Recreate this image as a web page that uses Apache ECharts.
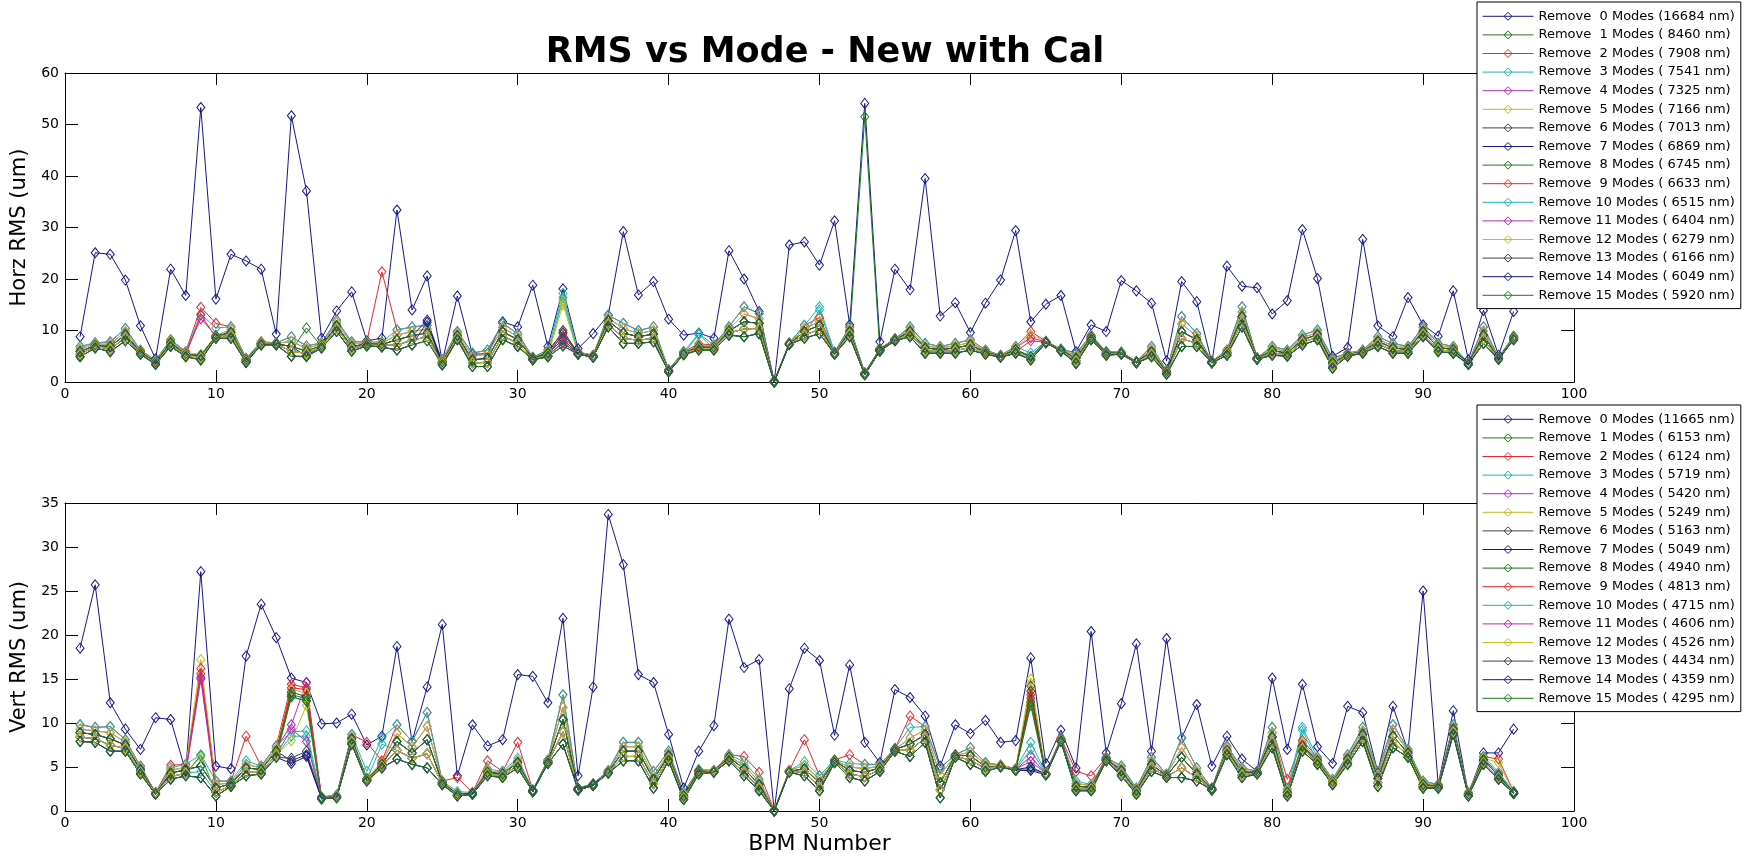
<!DOCTYPE html>
<html><head><meta charset="utf-8">
<script src="https://cdn.jsdelivr.net/npm/echarts@6/dist/echarts.min.js"></script>
<style>html,body{margin:0;padding:0;background:#fff}#c{width:1749px;height:856px}</style>
</head><body><div id="c"></div>
<script>
// ---------- data ----------
const bpm = [1,2,3,4,5,6,7,8,9,10,11,12,13,14,15,16,17,18,19,20,21,22,23,24,25,26,27,28,29,30,31,32,33,34,35,36,37,38,39,40,41,42,43,44,45,46,47,48,49,50,51,52,53,54,55,56,57,58,59,60,61,62,63,64,65,66,67,68,69,70,71,72,73,74,75,76,77,78,79,80,81,82,83,84,85,86,87,88,89,90,91,92,93,94,95,96];
const xTicks = [0,10,20,30,40,50,60,70,80,90,100];
const horzTicks = [0,10,20,30,40,50,60];
const vertTicks = [0,5,10,15,20,25,30,35];
const modeCount = [0,1,2,3,4,5,6,7,8,9,10,11,12,13,14,15];
const horzRms = [16684,8460,7908,7541,7325,7166,7013,6869,6745,6633,6515,6404,6279,6166,6049,5920];
const vertRms = [11665,6153,6124,5719,5420,5249,5163,5049,4940,4813,4715,4606,4526,4434,4359,4295];

// Horizontal: Remove 0 Modes
const horzRemove0 = [8.8,25.1,24.8,19.8,10.9,4.5,21.9,16.8,53.3,16.1,
24.8,23.5,21.9,9.3,51.7,37.1,8.5,13.8,17.5,8.0,
8.5,33.4,14.0,20.6,3.9,16.7,5.4,5.5,11.7,10.7,
18.8,6.9,18.1,6.5,9.4,13.0,29.2,16.9,19.5,12.2,
9.1,9.5,8.5,25.5,20.0,13.7,0,26.6,27.2,22.7,
31.3,11.1,54.1,7.8,21.9,17.9,39.5,12.8,15.4,9.6,
15.3,19.8,29.4,11.7,15.1,16.8,5.9,11.1,9.8,19.7,
17.7,15.3,4.1,19.5,15.6,3.8,22.5,18.6,18.3,13.2,
15.8,29.6,20.1,5.0,6.7,27.7,10.9,8.8,16.4,11.1,
8.9,17.7,4.3,13.9,5.2,13.7];
// Horizontal: bundle of the other removals, read as five levels (low .. high)
const horzLo = [4.9,6.6,5.9,8.0,5.4,3.4,6.9,4.9,4.3,8.5,
8.5,3.8,7.2,7.2,5.0,5.0,6.6,9.8,6.0,7.0,
6.8,6.2,7.2,8.0,3.3,8.2,3.0,3.0,8.2,6.9,
4.3,4.9,7.0,5.4,4.8,10.7,7.5,7.5,7.8,2.0,
5.3,6.2,6.2,9.1,8.8,9.4,0,7.3,8.5,9.4,
5.4,8.8,1.4,6.0,8.0,8.8,5.6,5.6,5.6,6.2,
5.4,4.8,5.6,4.3,7.6,6.0,3.6,8.2,5.2,5.4,
3.7,4.9,1.5,6.9,6.9,3.7,5.2,10.7,4.4,5.2,
5.0,7.2,8.2,2.7,5.0,5.6,6.9,5.6,5.6,8.8,
5.9,5.6,3.4,7.5,4.4,8.2];
const horzQ1 = [5.4,6.9,6.4,8.6,5.6,3.6,7.2,5.2,4.7,8.7,
9.1,4.0,7.4,7.3,6.0,5.5,6.9,10.4,6.5,7.2,
7.1,7.2,8.1,8.8,3.6,8.6,3.7,3.8,9.0,7.5,
4.4,5.2,7.6,5.5,4.9,11.3,8.5,8.1,8.5,2.1,
5.5,6.5,6.5,9.5,10.3,10.4,0,7.4,9.1,10.2,
5.5,9.3,1.5,6.1,8.1,9.3,6.1,5.9,6.1,6.7,
5.6,4.9,5.9,4.6,7.7,6.1,4.1,8.4,5.4,5.5,
3.8,5.4,1.7,8.4,7.5,3.8,5.5,11.7,4.5,5.6,
5.3,7.7,8.7,3.2,5.2,5.8,7.4,6.1,5.9,9.3,
6.3,5.9,3.5,8.3,4.5,8.4];
const horzMid = [5.9,7.1,6.9,9.2,5.8,3.8,7.6,5.4,5.1,8.9,
9.6,4.2,7.5,7.4,6.9,6.0,7.1,10.9,6.9,7.4,
7.3,8.2,9.0,9.5,3.8,9.0,4.3,4.6,9.8,8.2,
4.6,5.6,8.2,5.6,5.0,11.9,9.5,8.8,9.3,2.2,
5.6,6.8,6.7,9.9,11.7,11.4,0.1,7.4,9.8,11.0,
5.6,9.8,1.6,6.3,8.2,9.8,6.6,6.3,6.6,7.2,
5.8,5.0,6.3,4.9,7.8,6.2,4.6,8.7,5.6,5.6,
3.9,5.9,1.9,9.8,8.2,3.9,5.7,12.7,4.6,6.1,
5.6,8.2,9.2,3.7,5.3,5.9,7.9,6.6,6.3,9.8,
6.7,6.3,3.6,9.1,4.6,8.6];
const horzQ3 = [6.4,7.4,7.3,9.8,6.0,4.0,7.9,5.7,5.4,9.0,
10.2,4.4,7.7,7.5,7.9,6.5,7.4,11.5,7.4,7.6,
7.6,9.1,9.8,10.3,4.1,9.4,5.0,5.4,10.6,8.8,
4.7,5.9,8.8,5.7,5.1,12.4,10.4,9.4,10.0,2.3,
5.8,7.1,7.0,10.3,13.2,12.3,0.1,7.5,10.4,11.7,
5.7,10.2,1.7,6.4,8.3,10.2,7.0,6.6,7.0,7.7,
6.0,5.1,6.6,5.3,7.8,6.3,5.1,8.9,5.7,5.7,
3.9,6.4,2.0,11.3,8.8,3.9,6.0,13.6,4.6,6.5,
5.9,8.6,9.6,4.1,5.5,6.1,8.3,7.0,6.6,10.2,
7.1,6.6,3.6,9.9,4.7,8.7];
const horzHi = [6.9,7.6,7.8,10.4,6.2,4.2,8.2,5.9,5.8,9.2,
10.7,4.6,7.8,7.6,8.8,7.0,7.6,12.0,7.8,7.8,
7.8,10.1,10.7,11.0,4.3,9.8,5.6,6.2,11.4,9.4,
4.8,6.2,9.4,5.8,5.2,13.0,11.4,10.0,10.7,2.4,
5.9,7.4,7.2,10.7,14.6,13.3,0.2,7.6,11.0,12.5,
5.8,10.7,1.8,6.5,8.4,10.7,7.5,6.9,7.5,8.2,
6.2,5.2,6.9,5.6,7.9,6.4,5.6,9.1,5.9,5.8,
4.0,6.9,2.2,12.7,9.4,4.0,6.2,14.6,4.7,6.9,
6.2,9.1,10.1,4.6,5.6,6.2,8.8,7.5,6.9,10.7,
7.5,6.9,3.7,10.7,4.8,8.9];
// individual points that leave the bundle, {BPM: value}, per removal count 1..15
const horzOutliers = [null,
 {16:10.5,53:51.5},
 {9:14.5,10:11.4,21:21.4,64:9.8},
 {9:13.2,10:10.5,33:17.2,42:9.4,50:14.6},
 {9:12.3,64:8.6},
 {33:15.8,64:9.2},
 {33:10.0},
 {16:5.0,24:12.0},
 {},
 {9:13.0,64:8.0},
 {33:16.4,42:9.2,50:14.0},
 {},
 {33:15.0},
 {33:9.6},
 {16:4.9,24:11.6},
 {}];

// Vertical: Remove 0 Modes
const vertRemove0 = [18.5,25.7,12.3,9.3,7.0,10.6,10.4,4.5,27.2,5.1,
4.8,17.6,23.5,19.7,15.1,14.6,9.9,10.0,11.0,7.5,
8.5,18.7,7.9,14.1,21.2,4.0,9.8,7.4,8.1,15.5,
15.3,12.3,21.9,4.0,14.1,33.7,28.0,15.5,14.6,8.7,
2.6,6.8,9.7,21.8,16.3,17.2,0,13.9,18.5,17.1,
8.6,16.6,7.8,5.5,13.8,12.9,10.8,5.1,9.8,8.8,
10.3,7.8,8.0,17.4,5.4,9.2,4.9,20.4,6.6,12.2,
19.0,6.8,19.6,8.3,12.1,5.1,8.5,5.9,4.5,15.1,
7.0,14.4,7.3,5.4,11.9,11.2,4.4,11.9,6.8,25.0,
3.0,11.4,1.9,6.6,6.6,9.3];
const vertLo = [7.9,7.8,6.8,6.8,4.2,1.9,3.6,4.0,3.8,1.7,
2.8,4.0,4.2,6.1,5.4,6.2,1.4,1.5,7.6,3.4,
4.9,5.9,5.3,4.9,3.0,1.7,1.9,4.0,3.8,4.9,
2.2,5.4,7.6,2.4,2.9,4.3,5.7,5.7,2.6,5.7,
1.3,4.2,4.4,5.7,4.0,2.3,0,4.4,4.0,2.3,
5.5,3.8,3.4,4.5,6.8,6.2,7.8,1.5,6.1,5.3,
4.5,5.0,4.6,4.6,4.1,7.9,2.3,2.3,5.7,4.0,
1.9,4.5,3.8,3.8,3.4,2.4,6.4,3.8,4.2,7.2,
1.7,6.8,5.3,3.0,5.3,7.9,2.8,7.2,6.1,2.6,
2.6,8.7,1.7,5.3,3.6,2.0];
const vertQ1 = [8.4,8.2,7.5,7.1,4.4,2.0,3.9,4.3,4.5,2.1,
2.9,4.4,4.4,6.4,8.5,9.0,1.4,1.6,7.9,3.5,
5.1,6.9,6.0,6.5,3.1,1.8,1.9,4.2,4.0,5.2,
2.2,5.5,9.0,2.4,2.9,4.4,6.2,6.2,3.1,6.0,
1.5,4.3,4.5,5.9,4.4,2.6,0,4.5,4.4,2.7,
5.6,4.2,3.9,4.7,6.9,6.9,8.3,2.4,6.2,5.8,
4.8,5.1,4.7,6.2,4.2,8.0,2.5,2.5,5.8,4.3,
2.1,4.9,3.9,4.9,3.8,2.4,6.7,4.1,4.3,7.8,
1.9,7.1,5.5,3.2,5.6,8.3,3.2,7.9,6.3,2.8,
2.7,9.0,1.8,5.5,3.8,2.0];
const vertMid = [8.9,8.7,8.2,7.5,4.7,2.0,4.3,4.7,5.1,2.6,
3.1,4.9,4.7,6.8,13.2,13.0,1.5,1.6,8.2,3.6,
5.3,7.9,6.6,8.1,3.2,1.9,2.0,4.4,4.2,5.5,
2.3,5.6,10.4,2.5,3.0,4.4,6.8,6.8,3.6,6.3,
1.7,4.5,4.5,6.1,4.8,3.0,0,4.5,4.8,3.2,
5.7,4.6,4.4,4.9,7.0,7.6,8.7,3.2,6.3,6.3,
5.0,5.1,4.7,12.5,4.2,8.1,2.8,2.7,5.9,4.6,
2.3,5.3,4.0,6.1,4.2,2.5,6.9,4.4,4.4,8.4,
2.1,7.4,5.7,3.3,5.9,8.7,3.7,8.5,6.6,3.0,
2.8,9.3,1.9,5.8,4.0,2.1];
const vertQ3 = [9.3,9.1,8.9,7.8,4.9,2.1,4.6,5.0,5.8,3.0,
3.2,5.3,4.9,7.1,13.8,14.0,1.5,1.7,8.4,3.7,
5.5,8.8,7.3,9.6,3.3,2.0,2.0,4.6,4.3,5.7,
2.3,5.7,11.8,2.5,3.0,4.5,7.3,7.3,4.0,6.5,
1.9,4.6,4.6,6.2,5.2,3.3,0.1,4.6,5.2,3.6,
5.7,5.0,4.8,5.1,7.0,8.3,9.2,4.1,6.3,6.7,
5.3,5.2,4.8,13.6,4.3,8.2,3.1,2.9,6.0,4.8,
2.4,5.7,4.1,7.2,4.5,2.5,7.2,4.6,4.4,8.9,
2.3,7.7,5.9,3.5,6.1,9.1,4.1,9.2,6.8,3.2,
2.9,9.5,2.0,6.0,4.2,2.1];
const vertHi = [9.8,9.5,9.6,8.1,5.1,2.1,4.9,5.3,6.4,3.4,
3.4,5.7,5.1,7.4,14.4,14.6,1.6,1.8,8.7,3.8,
5.7,9.8,7.9,11.2,3.4,2.2,2.1,4.8,4.5,6.0,
2.4,5.8,13.2,2.6,3.1,4.6,7.8,7.8,4.5,6.8,
2.1,4.7,4.6,6.4,5.6,3.6,0.1,4.6,5.6,4.0,
5.8,5.4,5.3,5.3,7.1,9.5,9.6,4.9,6.4,7.2,
5.5,5.2,4.8,15.0,4.3,8.3,3.4,3.0,6.1,5.1,
2.6,6.1,4.2,8.3,4.9,2.6,7.4,4.9,4.5,9.5,
2.5,8.0,6.1,3.6,6.4,9.5,4.5,9.8,7.0,3.4,
3.0,9.8,2.1,6.2,4.4,2.2];
const vertOutliers = [null,
 {9:6.3,15:13.0,16:12.5,64:4.8},
 {7:5.2,9:15.6,12:8.5,15:14.4,16:14.0,20:7.8,26:3.8,28:5.7,30:7.8,45:6.2,46:4.4,49:8.1,52:6.4,56:10.8,64:12.8,67:4.5,68:4.0,81:3.6,95:5.9},
 {15:9.0,16:9.1,20:4.5,21:8.3,64:7.8,82:9.5},
 {9:15.2,15:9.8,16:14.6,64:5.6},
 {9:17.2,15:13.8,16:13.4,64:15.0,95:5.5},
 {15:13.5,16:13.0,64:14.2},
 {15:5.7,16:6.4,64:5.0},
 {15:13.2,16:12.8,64:12.4},
 {9:16.2,15:14.0,16:13.8,64:13.2},
 {15:8.5,16:8.5,21:7.6,64:7.0,82:9.2},
 {9:15.0,15:9.3,16:7.9,64:6.2},
 {9:6.1,15:8.0,16:12.0,64:14.5},
 {15:6.0,16:6.8,64:13.6},
 {15:5.4,16:6.2,64:4.6},
 {15:13.0,16:12.5,64:12.0}];

// which bundle level each removal count sits on (index = modes removed)
const levelOfMode = ['', 'q1','hi','hi','q3','q3','mid','mid','mid','q1','q1','q1','q1','lo','lo','lo'];

// ---------- styling ----------
const palette = ['#16168a','#1c7a1c','#e8262a','#1fb5b5','#b52ab5','#bfbf1f','#404040'];
const FONT = 'DejaVu Sans';

function pad(n, w){ let s = String(n); while (s.length < w) s = ' ' + s; return s; }
function seriesName(m, rms){ return 'Remove ' + pad(m,2) + ' Modes (' + pad(rms,5) + ' nm)'; }

function buildPlot(zero, levels, outliers, rmsList, axisIdx){
  const out = [];
  modeCount.forEach(m => {
    let vals;
    if (m === 0) vals = zero.slice();
    else {
      vals = levels[levelOfMode[m]].slice();
      const o = outliers[m];
      Object.keys(o).forEach(k => { vals[+k - 1] = o[k]; });
    }
    const c = palette[m % palette.length];
    out.push({
      name: seriesName(m, rmsList[m]),
      type: 'line',
      xAxisIndex: axisIdx, yAxisIndex: axisIdx,
      data: bpm.map((b, i) => [b, vals[i]]),
      symbol: 'diamond',
      symbolSize: [8, 10],
      showAllSymbol: true,
      lineStyle: { color: c, width: 1 },
      itemStyle: { color: 'rgba(255,255,255,0)', borderColor: c, borderWidth: 1 },
      emphasis: { disabled: true },
      animation: false,
      z: 2
    });
  });
  return out;
}

const horzSeries = buildPlot(horzRemove0, {lo:horzLo,q1:horzQ1,mid:horzMid,q3:horzQ3,hi:horzHi}, horzOutliers, horzRms, 0);
const vertSeries = buildPlot(vertRemove0, {lo:vertLo,q1:vertQ1,mid:vertMid,q3:vertQ3,hi:vertHi}, vertOutliers, vertRms, 2);

function xAx(grid, pos, showLabel, name){
  return {
    type: 'value', gridIndex: grid, position: pos,
    min: xTicks[0], max: xTicks[xTicks.length-1], interval: xTicks[1]-xTicks[0],
    axisLine: { show: true, onZero: false, lineStyle: { color: '#000', width: 1 } },
    axisTick: { show: true, inside: true, length: 12, lineStyle: { color: '#000' } },
    axisLabel: { show: showLabel, color: '#000', fontFamily: FONT, fontSize: 14, margin: 5 },
    splitLine: { show: false },
    name: name || '', nameLocation: 'middle', nameGap: 22,
    nameTextStyle: { color: '#000', fontFamily: FONT, fontSize: 22 }
  };
}
function yAx(grid, pos, ticks, showLabel, name){
  return {
    type: 'value', gridIndex: grid, position: pos,
    min: ticks[0], max: ticks[ticks.length-1], interval: ticks[1]-ticks[0],
    axisLine: { show: true, onZero: false, lineStyle: { color: '#000', width: 1 } },
    axisTick: { show: true, inside: true, length: 13, lineStyle: { color: '#000' } },
    axisLabel: { show: showLabel, color: '#000', fontFamily: FONT, fontSize: 14, margin: 6 },
    splitLine: { show: false },
    name: name || '', nameLocation: 'middle', nameGap: 30, nameRotate: 90,
    nameTextStyle: { color: '#000', fontFamily: FONT, fontSize: 21 }
  };
}

function legendFor(series, top){
  return {
    data: series.map(s => s.name),
    orient: 'vertical', left: 1477, top: top,
    itemWidth: 51, itemHeight: 10, itemGap: 0,
    padding: [5, 6, 4, 5],
    backgroundColor: '#fff', borderColor: '#000', borderWidth: 1,
    itemStyle: { color: 'rgba(255,255,255,0)', borderColor: 'inherit', borderWidth: 1 },
    lineStyle: { width: 1 },
    textStyle: { color: '#000', fontFamily: FONT, fontSize: 13, lineHeight: 18.6 },
    selectedMode: false, z: 10
  };
}

const chart = echarts.init(document.getElementById('c'), null, { renderer: 'canvas' });
chart.setOption({
  backgroundColor: '#fff',
  animation: false,
  title: {
    text: 'RMS vs Mode - New with Cal', left: 820, top: 30, textAlign: 'center',
    textStyle: { fontFamily: FONT, fontWeight: 'bold', fontSize: 35, color: '#000' }
  },
  grid: [
    { left: 65, top: 73, width: 1509, height: 309, containLabel: false },
    { left: 65, top: 503, width: 1509, height: 309, containLabel: false }
  ],
  xAxis: [ xAx(0,'bottom',true), xAx(0,'top',false), xAx(1,'bottom',true,'BPM Number'), xAx(1,'top',false) ],
  yAxis: [ yAx(0,'left',horzTicks,true,'Horz RMS (um)'), yAx(0,'right',horzTicks,false), yAx(1,'left',vertTicks,true,'Vert RMS (um)'), yAx(1,'right',vertTicks,false) ],
  legend: [ legendFor(horzSeries, 2), legendFor(vertSeries, 405) ],
  series: horzSeries.concat(vertSeries)
});
</script></body></html>
